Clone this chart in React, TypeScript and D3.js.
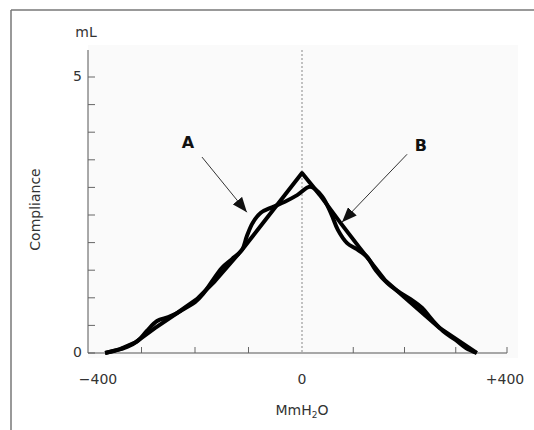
import * as d3 from 'd3';

// pressure (mmH2O) vs compliance (mL)
const curveAX = [-368, -340, -310, -275, -234, -196, -163, -112, 0, 35, 74, 113, 162, 211, 269, 341];
const curveAY = [0, 0.07, 0.2, 0.45, 0.72, 0.98, 1.3, 1.87, 3.26, 2.86, 2.37, 1.9, 1.32, 0.92, 0.45, 0];

const curveBX = [-368, -350, -327, -307, -290, -271, -250, -234, -217, -200, -185, -168, -150, -131, -112, -103, -92, -77, -56, -32, -9, 16,
  39, 57, 70, 88, 107, 127, 144, 166, 187, 211, 234, 254, 275, 299, 320, 341];
const curveBY = [0, 0.04, 0.11, 0.22, 0.4, 0.58, 0.65, 0.72, 0.82, 0.92, 1.07, 1.3, 1.54, 1.7, 1.87, 2.12, 2.36, 2.54, 2.64, 2.74, 2.86, 3.01,
  2.84, 2.52, 2.23, 1.99, 1.88, 1.74, 1.5, 1.27, 1.12, 0.98, 0.82, 0.6, 0.4, 0.24, 0.09, 0];

const yTicks = [0, 0.5, 1, 1.5, 2, 2.5, 3, 3.5, 4, 4.5, 5];
const yLabels = [0, 5];
const xTicks = [-300, -200, -100, 100, 200, 300, 400];
const xLabels = [
  { v: -400, t: '\u2212400', dx: 10 },
  { v: 0, t: '0', dx: 0 },
  { v: 400, t: '+400', dx: -2 },
];

// annotation arrows (data units)
const arrows = [
  { label: 'A', text: [-213, 3.79], from: [-187, 3.55], to: [-103, 2.55] },
  { label: 'B', text: [232, 3.75], from: [205, 3.6], to: [78, 2.37] },
];

const font = '"DejaVu Sans", Verdana, sans-serif';

const App = () => {
  const width = 534;
  const height = 430;

  const x = d3.scaleLinear().domain([-400, 0, 400]).range([88, 302, 507]);
  const y = d3.scaleLinear().domain([0, 5]).range([353, 77]);

  const line = d3.line<[number, number]>()
    .x((d) => x(d[0]))
    .y((d) => y(d[1]));

  const ptsA = curveAX.map((v, i) => [v, curveAY[i]] as [number, number]);
  const ptsB = curveBX.map((v, i) => [v, curveBY[i]] as [number, number]);

  const pathA = line.curve(d3.curveLinear)(ptsA);
  const pathB = line.curve(d3.curveCatmullRom.alpha(0.5))(ptsB);

  const top = y(5) - 27;

  return (
    <svg width={width} height={height} style={{ position: 'absolute', left: 0, top: 0, background: '#fff' }}>
      <defs>
        <marker id="head" markerUnits="userSpaceOnUse" markerWidth={16} markerHeight={12}
          refX={15} refY={6} orient="auto">
          <path d="M0,0 L15,6 L0,12 Z" fill="#111" />
        </marker>
      </defs>

      {/* frame */}
      <line x1={11} y1={10} x2={width} y2={10} stroke="#777" strokeWidth={1.5} />
      <line x1={11} y1={10} x2={11} y2={height} stroke="#777" strokeWidth={1.5} />

      {/* plot background */}
      <rect x={x(-400)} y={top - 5} width={518 - x(-400)} height={358 - (top - 5)} fill="#fafafa" />

      {/* zero line */}
      <line x1={x(0)} x2={x(0)} y1={top} y2={y(0)} stroke="#888" strokeDasharray="2,2" strokeWidth={1} />

      {/* y axis */}
      <line x1={x(-400)} x2={x(-400)} y1={top} y2={y(0)} stroke="#555" strokeWidth={1} />
      {yTicks.map((t) => (
        <line key={t} x1={x(-400)} x2={x(-400) + 7} y1={y(t)} y2={y(t)} stroke="#666" strokeWidth={1} />
      ))}
      {yLabels.map((t) => (
        <text key={t} x={x(-400) - 6} y={y(t)} textAnchor="end" dominantBaseline="middle"
          fontSize={14} fontFamily={font} fill="#333">{t}</text>
      ))}
      <text x={x(-400) - 2} y={37} textAnchor="middle" fontSize={14} fontFamily={font} fill="#333">mL</text>
      <text transform={`translate(40, ${y(2.6)}) rotate(-90)`} textAnchor="middle"
        fontSize={14} fontFamily={font} fill="#333">Compliance</text>

      {/* x axis */}
      <line x1={x(-400)} x2={x(400)} y1={y(0)} y2={y(0)} stroke="#555" strokeWidth={1} />
      {xTicks.map((t) => (
        <line key={t} x1={x(t)} x2={x(t)} y1={y(0)} y2={y(0) - 6} stroke="#666" strokeWidth={1} />
      ))}
      {xLabels.map((l) => (
        <text key={l.v} x={x(l.v) + l.dx} y={384} textAnchor="middle"
          fontSize={14} fontFamily={font} fill="#333">{l.t}</text>
      ))}
      <text x={x(0)} y={415} textAnchor="middle" fontSize={14} fontFamily={font} fill="#333">
        MmH<tspan fontSize={9} dy={3}>2</tspan><tspan dy={-3}>O</tspan>
      </text>

      {/* curves */}
      <path d={pathA ?? ''} fill="none" stroke="#000" strokeWidth={4} strokeLinejoin="round" />
      <path d={pathB ?? ''} fill="none" stroke="#000" strokeWidth={4} strokeLinejoin="round" />

      {/* annotations */}
      {arrows.map((a) => (
        <g key={a.label}>
          <line x1={x(a.from[0])} y1={y(a.from[1])} x2={x(a.to[0])} y2={y(a.to[1])}
            stroke="#333" strokeWidth={1} markerEnd="url(#head)" />
          <text x={x(a.text[0])} y={y(a.text[1])} textAnchor="middle" dominantBaseline="middle"
            fontSize={16} fontWeight={700} fontFamily={font} fill="#111">{a.label}</text>
        </g>
      ))}
    </svg>
  );
};

export default App;
